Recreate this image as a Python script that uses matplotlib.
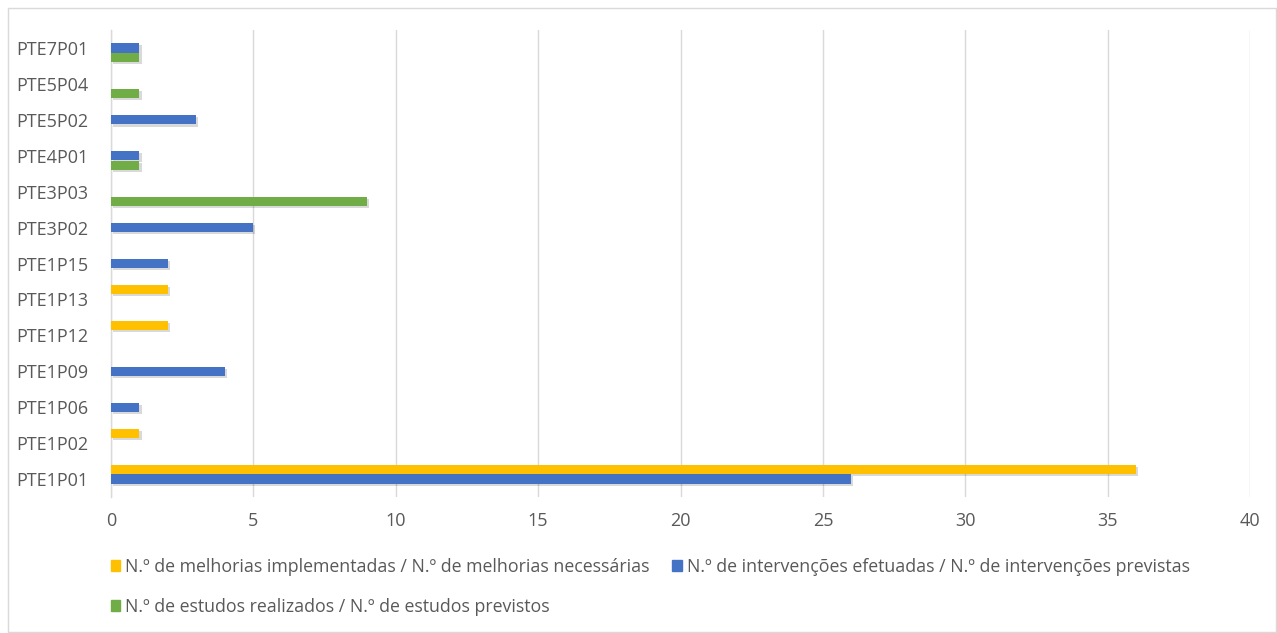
import matplotlib
matplotlib.use("Agg")
import matplotlib.pyplot as plt
import numpy as np
from matplotlib.patches import Patch, Rectangle
import matplotlib.patheffects as pe

categories = ["PTE1P01", "PTE1P02", "PTE1P06", "PTE1P09", "PTE1P12", "PTE1P13",
              "PTE1P15", "PTE3P02", "PTE3P03", "PTE4P01", "PTE5P02", "PTE5P04", "PTE7P01"]
melhorias = [36, 1, 0, 0, 2, 2, 0, 0, 0, 0, 0, 0, 0]
intervencoes = [26, 0, 1, 4, 0, 0, 2, 5, 0, 1, 3, 0, 1]
estudos = [0, 0, 0, 0, 0, 0, 0, 0, 9, 1, 0, 1, 1]
series_labels = ["N.º de melhorias implementadas / N.º de melhorias necessárias",
                 "N.º de intervenções efetuadas / N.º de intervenções previstas",
                 "N.º de estudos realizados / N.º de estudos previstos"]
xticks = [0, 5, 10, 15, 20, 25, 30, 35, 40]

colors = ["#FFC000", "#4472C4", "#70AD47"]
plt.rcParams['font.family'] = ['Open Sans', 'DejaVu Sans']
txt = "#595959"

fig = plt.figure(figsize=(12.77, 6.33), dpi=100)
ax = fig.add_axes([0.0869, 0.2148, 0.9789 - 0.0869, 0.9526 - 0.2148])

y = np.arange(len(categories))
h = 0.26
offsets = [0.27, 0.0, -0.27]
shadow = [pe.SimplePatchShadow(offset=(1.5, -1.5), shadow_rgbFace="#000000", alpha=0.15), pe.Normal()]
for vals, off, c in zip([melhorias, intervencoes, estudos], offsets, colors):
    bars = ax.barh(y + off, vals, height=h, color=c, zorder=3)
    for b in bars:
        if b.get_width() > 0:
            b.set_path_effects(shadow)

ax.set_xlim(0, 40)
ax.set_ylim(-0.5, len(categories) - 0.5)
ax.set_yticks(y)
ax.set_yticklabels(categories, fontsize=13, color=txt)
ax.set_xticks(xticks)
ax.set_xticklabels([str(t) for t in xticks], fontsize=13, color=txt)
ax.tick_params(axis='both', length=0)
ax.tick_params(axis='x', pad=11)
ax.tick_params(axis='y', pad=16)
ax.grid(axis='x', color="#D9D9D9", linewidth=1, zorder=0)
for s in ["top", "right", "bottom"]:
    ax.spines[s].set_visible(False)
ax.spines["left"].set_color("#D9D9D9")
ax.spines["left"].set_linewidth(1)

handles = [Patch(facecolor=c, edgecolor=c) for c in colors]
order = [0, 2, 1]
leg = fig.legend([handles[i] for i in order], [series_labels[i] for i in order],
                 ncol=2, loc="upper left", bbox_to_anchor=(0.081, 0.130),
                 frameon=False, fontsize=12.8, handlelength=0.55, handleheight=0.55,
                 handletextpad=0.25, labelspacing=1.25, columnspacing=1.3, borderaxespad=0)
for t in leg.get_texts():
    t.set_color(txt)

fig.patches.append(Rectangle((0.006, 0.002), 0.993, 0.985, transform=fig.transFigure,
                             fill=False, edgecolor="#D9D9D9", linewidth=1))
fig.savefig("out.png", dpi=100)
